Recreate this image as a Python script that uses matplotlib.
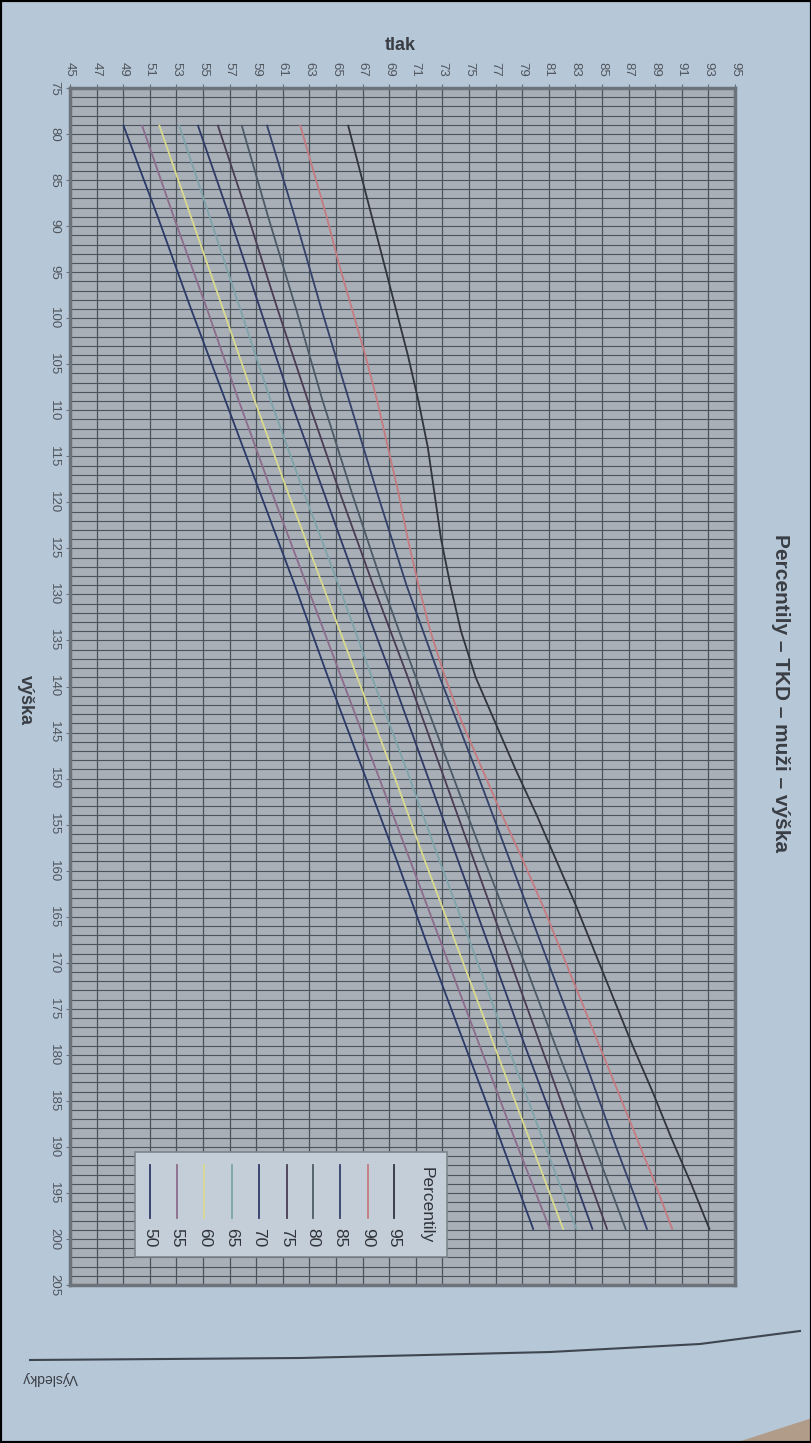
import matplotlib
matplotlib.use('Agg')
import matplotlib.pyplot as plt
from matplotlib.patches import Rectangle, Polygon
from matplotlib.lines import Line2D

plt.rcParams['font.family'] = ['Liberation Sans', 'DejaVu Sans']

# výška (cm) na ktorých sú odčítané percentilové krivky
vyska = [79, 89, 99, 109, 119, 129, 139, 149, 159, 169, 179, 189, 199]
# jemnejší krok pre 95. a 90. percentil (výrazný ohyb)
vyska_jemne = [79, 84, 89, 94, 99, 104, 109, 114, 119, 124, 129, 134, 139,
               144, 149, 154, 159, 164, 169, 174, 179, 184, 189, 194, 199]

# tlak (TKD) pre jednotlivé percentily
p95 = [65.9, 66.8, 67.7, 68.6, 69.5, 70.4, 71.2, 71.9, 72.4, 72.9, 73.6, 74.4, 75.5,
       77.0, 78.5, 80.1, 81.6, 83.1, 84.5, 85.9, 87.3, 88.8, 90.2, 91.7, 93.1]
p90 = [62.3, 63.3, 64.3, 65.2, 66.2, 67.2, 68.1, 68.9, 69.7, 70.4, 71.2, 72.1, 73.2,
       74.5, 76.0, 77.5, 79.1, 80.6, 82.0, 83.4, 84.8, 86.2, 87.6, 89.0, 90.3]
p85 = [59.8, 61.9, 63.9, 66.0, 68.1, 70.3, 72.8, 75.5, 78.1, 80.7, 83.3, 85.8, 88.4]
p80 = [57.9, 59.9, 62.0, 64.0, 66.2, 68.5, 71.0, 73.6, 76.2, 78.9, 81.5, 84.2, 86.8]
p75 = [56.1, 58.4, 60.6, 62.9, 65.3, 67.8, 70.4, 72.9, 75.4, 77.9, 80.4, 82.9, 85.4]
p70 = [54.6, 57.0, 59.3, 61.6, 64.1, 66.6, 69.2, 71.7, 74.2, 76.7, 79.2, 81.8, 84.3]
p65 = [53.2, 55.5, 57.8, 60.1, 62.6, 65.2, 67.7, 70.3, 72.8, 75.4, 77.9, 80.5, 83.1]
p60 = [51.7, 54.1, 56.5, 58.9, 61.4, 64.0, 66.6, 69.2, 71.7, 74.3, 76.9, 79.5, 82.1]
p55 = [50.4, 52.8, 55.3, 57.7, 60.2, 62.8, 65.4, 68.0, 70.6, 73.2, 75.8, 78.4, 81.1]
p50 = [49.0, 51.6, 54.1, 56.7, 59.3, 61.9, 64.4, 67.0, 69.6, 72.1, 74.7, 77.3, 79.85]

percentily = ['95', '90', '85', '80', '75', '70', '65', '60', '55', '50']
krivky = [p95, p90, p85, p80, p75, p70, p65, p60, p55, p50]
osi = [vyska_jemne, vyska_jemne] + [vyska] * 8
farby = ['#30353f', '#c57a80', '#34426a', '#4d5b68', '#4a3d55',
         '#2f3b66', '#7ea3aa', '#d9d98e', '#8c6c8c', '#2c3a68']

W, H = 812, 1443
fig = plt.figure(figsize=(W / 100, H / 100), dpi=100)
fig.patch.set_facecolor('#b6c7d8')

# plocha grafu (graf je na stránke otočený o 90°)
x0, x1, y0, y1 = 70, 735, 88, 1285
ax = fig.add_axes([x0 / W, 1 - y1 / H, (x1 - x0) / W, (y1 - y0) / H])
ax.set_facecolor('#a8afb7')
ax.set_xlim(45, 95)
ax.set_ylim(205, 75)

for vals, hs, c in zip(krivky, osi, farby):
    ax.plot(vals, hs, color=c, lw=1.3, solid_capstyle='butt')

ax.xaxis.tick_top()
ax.set_xticks(range(45, 96, 2))
ax.set_yticks(range(75, 206, 5))
ax.set_yticks(range(75, 206), minor=True)
ax.tick_params(axis='x', which='major', rotation=-90, labelsize=9.5,
               labelcolor='#50555c', color='#6a7078', length=3, pad=5)
ax.tick_params(axis='y', which='major', rotation=-90, labelsize=9.5,
               labelcolor='#50555c', color='#6a7078', length=3, pad=4)
ax.tick_params(axis='y', which='minor', length=0)
for t in ax.get_yticklabels():
    t.set_va('center')
ax.grid(True, which='major', axis='x', color='#4b535d', lw=0.9)
ax.grid(True, which='both', axis='y', color='#4b535d', lw=0.8)
ax.set_axisbelow(True)
for s in ax.spines.values():
    s.set_color('#6c737b')
    s.set_linewidth(2.5)

# legenda (ručne, otočená)
def fx(px):
    return (px - x0) / (x1 - x0)

def fy(py):
    return (y1 - py) / (y1 - y0)

ax.add_patch(Rectangle((fx(135), fy(1257)), fx(447) - fx(135), fy(1152) - fy(1257),
                       transform=ax.transAxes, facecolor='#c4ced8',
                       edgecolor='#7c848c', lw=1.2, zorder=5))
ax.text(fx(426), fy(1205), 'Percentily', transform=ax.transAxes, rotation=-90,
        ha='center', va='center', fontsize=12.5, color='#30343a', zorder=6)
leg_x = [394, 368, 340, 313, 286.5, 259, 232, 204.5, 177, 150]
for lx, lab, c in zip(leg_x, percentily, farby):
    ax.add_line(Line2D([fx(lx), fx(lx)], [fy(1165), fy(1218)], transform=ax.transAxes,
                       color=c, lw=1.3, zorder=6))
    ax.text(fx(lx), fy(1238), lab, transform=ax.transAxes, rotation=-90,
            ha='center', va='center', fontsize=12.5, color='#30343a', zorder=6)

# popisy
fig.text(400 / W, 1 - 45 / H, 'tlak', ha='center', va='center',
         fontsize=13, fontweight='bold', color='#3a3e44')
fig.text(25 / W, 1 - 700 / H, 'výška', ha='center', va='center', rotation=-90,
         fontsize=13, fontweight='bold', color='#3a3e44')
fig.text(781 / W, 1 - 693 / H, 'Percentily – TKD – muži – výška', ha='center',
         va='center', rotation=-90, fontsize=15, fontweight='bold', color='#3a3e44')

# okraj stránky z fotografie
fig.add_artist(Line2D([30 / W, 300 / W, 550 / W, 700 / W, 800 / W],
                      [1 - 1360 / H, 1 - 1358 / H, 1 - 1352 / H, 1 - 1344 / H, 1 - 1331 / H],
                      color='#3f4650', lw=1.5))
fig.text(50 / W, 1 - 1378 / H, 'Výsledky', ha='center', va='center', rotation=180,
         fontsize=10, color='#3a3e44')
fig.add_artist(Polygon([[735 / W, 0], [1, 0], [1, 1 - 1418 / H]], closed=True,
                       facecolor='#b09c88', edgecolor='none'))
fig.add_artist(Rectangle((0, 0), 1, 1, fill=False, edgecolor='black', lw=3,
                         transform=fig.transFigure))

fig.savefig('out.png', dpi=100, facecolor=fig.get_facecolor())
